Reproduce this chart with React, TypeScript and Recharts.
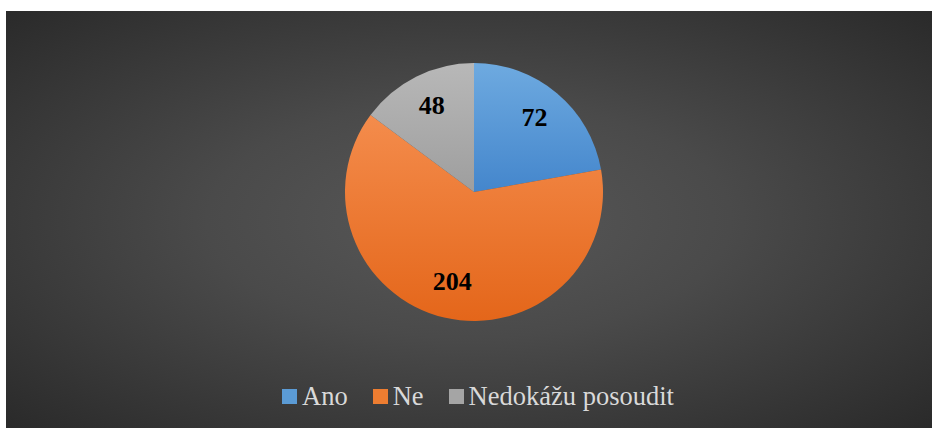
import React from "react";
import { PieChart, Pie, Cell, Legend } from "recharts";

const categories = ["Ano", "Ne", "Nedokážu posoudit"];
const values = [72, 204, 48];
const colorsTop = ["#6eaae0", "#f48c4c", "#b8b8b8"];
const colorsBottom = ["#4486cc", "#e4661a", "#9e9e9e"];
const legendColors = ["#5b9bd5", "#ed7d31", "#a5a5a5"];

const data = categories.map((name, i) => ({ name, value: values[i] }));

const RAD = Math.PI / 180;
const serif = "Liberation Serif, Times New Roman, DejaVu Serif";

const renderLabel = (props: any) => {
  const { cx, cy, midAngle, outerRadius, value } = props;
  const r = outerRadius * 0.73;
  const x = cx + r * Math.cos(-midAngle * RAD);
  const y = cy + r * Math.sin(-midAngle * RAD) - 2;
  return (
    <text
      x={x}
      y={y}
      fill="#000"
      textAnchor="middle"
      dominantBaseline="central"
      style={{ fontFamily: serif, fontWeight: "bold", fontSize: 26 }}
    >
      {value}
    </text>
  );
};

const renderLegend = () => (
  <div
    style={{
      display: "flex",
      justifyContent: "center",
      alignItems: "center",
      fontFamily: serif,
      fontSize: 26.5,
      color: "#d9d9d9",
    }}
  >
    {categories.map((name, i) => (
      <div
        key={name}
        style={{
          display: "flex",
          alignItems: "center",
          marginRight: i < categories.length - 1 ? 25 : 0,
        }}
      >
        <span
          style={{
            display: "inline-block",
            width: 15,
            height: 15,
            background: legendColors[i],
            marginRight: 5,
          }}
        />
        <span>{name}</span>
      </div>
    ))}
  </div>
);

export default function App() {
  return (
    <div
      style={{
        position: "absolute",
        left: 6,
        top: 11,
        width: 926,
        height: 417,
        fontFamily: serif,
        background:
          "radial-gradient(ellipse at center, #585858 0%, #4a4a4a 40%, #2a2a2a 100%)",
      }}
    >
      <PieChart
        width={926}
        height={417}
        margin={{ top: 0, right: 0, bottom: 0, left: 0 }}
      >
        <defs>
          {categories.map((name, i) => (
            <linearGradient key={name} id={`g${i}`} x1="0" y1="0" x2="0" y2="1">
              <stop offset="0%" stopColor={colorsTop[i]} />
              <stop offset="100%" stopColor={colorsBottom[i]} />
            </linearGradient>
          ))}
        </defs>
        <Pie
          data={data}
          dataKey="value"
          nameKey="name"
          cx={468}
          cy={181}
          outerRadius={129}
          startAngle={90}
          endAngle={-270}
          stroke="none"
          label={renderLabel}
          labelLine={false}
          isAnimationActive={false}
        >
          {data.map((d, i) => (
            <Cell key={d.name} fill={`url(#g${i})`} />
          ))}
        </Pie>
        <Legend
          content={renderLegend}
          wrapperStyle={{ top: 370, left: 9, width: 926 }}
        />
      </PieChart>
    </div>
  );
}
